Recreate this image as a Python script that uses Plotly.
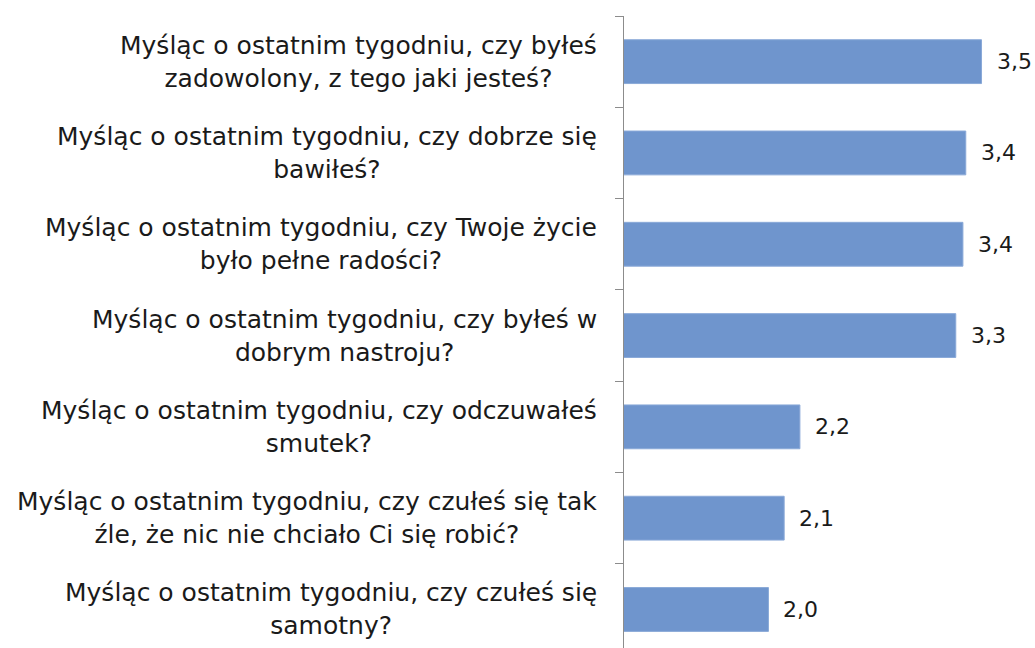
import plotly.graph_objects as go

categories = [
    "Myśląc o ostatnim tygodniu, czy byłeś<br>zadowolony, z tego jaki jesteś?",
    "Myśląc o ostatnim tygodniu, czy dobrze się<br>bawiłeś?",
    "Myśląc o ostatnim tygodniu, czy Twoje życie<br>było pełne radości?",
    "Myśląc o ostatnim tygodniu, czy byłeś w<br>dobrym nastroju?",
    "Myśląc o ostatnim tygodniu, czy odczuwałeś<br>smutek?",
    "Myśląc o ostatnim tygodniu, czy czułeś się tak<br>źle, że nic nie chciało Ci się robić?",
    "Myśląc o ostatnim tygodniu, czy czułeś się<br>samotny?",
]
values = [3.50, 3.39, 3.37, 3.32, 2.23, 2.12, 2.01]
value_labels = ["3,5", "3,4", "3,4", "3,3", "2,2", "2,1", "2,0"]

# plot bottom-to-top
cats = categories[::-1]
vals = values[::-1]
labs = value_labels[::-1]

FONT = "DejaVu Sans"

fig = go.Figure()
fig.add_trace(go.Bar(
    y=cats, x=vals, orientation="h",
    marker=dict(color="#6f95cd", line=dict(color="#8aa9d8", width=1)),
    hoverinfo="skip",
))

annotations = []
for c, v, l in zip(cats, vals, labs):
    annotations.append(dict(
        x=v, y=c, xref="x", yref="y", text=l, showarrow=False,
        xanchor="left", yanchor="middle", xshift=13,
        font=dict(family=FONT, size=22, color="#1a1a1a"),
    ))
    annotations.append(dict(
        x=0, y=c, xref="paper", yref="y", text=c, showarrow=False,
        xanchor="right", yanchor="middle", xshift=-25, align="center",
        font=dict(family=FONT, size=25, color="#1a1a1a"),
    ))

fig.update_layout(
    width=1035, height=648,
    margin=dict(l=624, r=0, t=16, b=0),
    paper_bgcolor="white", plot_bgcolor="white",
    showlegend=False,
    bargap=0.52,
    annotations=annotations,
    xaxis=dict(range=[1, 3.874], visible=False, showgrid=False, zeroline=False),
    yaxis=dict(
        type="category", categoryorder="array", categoryarray=cats,
        range=[-0.422, 6.5],
        showticklabels=False, showgrid=False, zeroline=False,
        showline=True, linecolor="#8c8c8c", linewidth=1,
        ticks="outside", tickson="boundaries", ticklen=8,
        tickcolor="#8c8c8c", tickwidth=1,
    ),
)

fig.write_html(
    "out.html",
    config={"displayModeBar": False},
    post_script="document.body.style.margin='0';document.body.style.overflow='hidden';",
)
